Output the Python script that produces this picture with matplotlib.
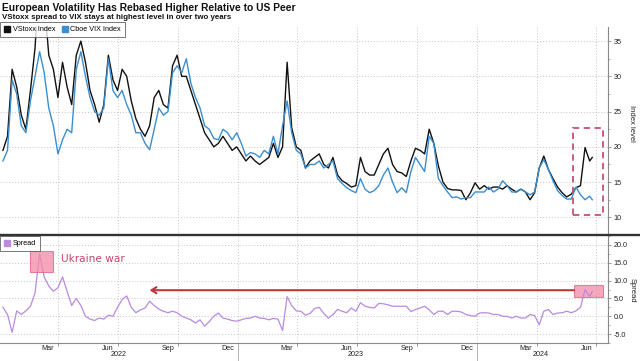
import matplotlib
matplotlib.use("Agg")
import matplotlib.pyplot as plt
import matplotlib.dates as mdates
from matplotlib.patches import Rectangle, Patch
from matplotlib.lines import Line2D
from matplotlib.ticker import MultipleLocator, FormatStrFormatter
import pandas as pd

# ---------------- data (weekly readings) ----------------
week_start = "2022-01-07"
n_weeks = 129
last_date = "2024-06-25"

vstoxx = [19.5, 21.5, 31, 28.5, 24.5, 22.5, 28, 34, 45, 41,
          33, 31, 27, 32, 28.5, 26, 33, 35, 32, 28,
          26, 23.5, 26, 33, 29.5, 28, 31, 30, 26.5, 24,
          22.5, 21.5, 23, 27, 28, 26, 25.5, 31.5, 33, 30,
          30, 28, 26, 24, 22, 21, 20, 20.5, 21.5, 20.5,
          19.5, 20, 19, 18, 18.7, 18, 17.5, 18, 18.5, 20.5,
          18.5, 20, 32, 22.7, 20, 19.5, 17, 18, 18.5, 19,
          17.5, 17, 18.5, 16, 15.2, 14.8, 14.3, 14.5, 18.5, 16.5,
          16, 16, 17.5, 19, 19.8, 17.5, 16.5, 16.3, 15.8, 18,
          19.8, 19.5, 19, 22.5, 20.5, 17.3, 15, 14.1, 13.9, 13.9,
          13.8, 12.5, 13.5, 14.9, 14, 14.5, 14, 14.3, 14.3, 14,
          14.5, 14, 13.6, 14, 13.6, 12.5, 13.5, 17, 18.7, 16.8,
          15.5, 14.3, 13.5, 12.9, 13.3, 14.2, 14.5, 19.9, 18, 18.5]

vix = [18, 19.5, 29.5, 27.5, 23, 22, 26.5, 30, 33.5, 30.5,
       25.5, 23, 19, 21, 22.5, 22, 31, 33.5, 30, 27,
       25, 24.5, 25.5, 32.5, 28, 27, 28, 26, 24.5, 22,
       22, 20.5, 19.6, 22.5, 25.5, 24.5, 25, 30.5, 31.5, 30.5,
       32.5, 29, 27, 25.5, 23, 22.5, 21.2, 21, 22.5, 22,
       21, 22, 20.5, 18.7, 19.2, 19, 18.5, 19.5, 19, 21.5,
       19, 23, 26.5, 22, 19.5, 19, 17, 17.5, 17.5, 18,
       17, 17.5, 18, 15.5, 14.8, 14.2, 13.8, 13.5, 15.5, 14,
       13.5, 13.8, 14.5, 16, 17, 15, 13.5, 14.2, 13.5, 16.5,
       18.5, 17.5, 16.5, 21.5, 20.5, 15.5, 14.5, 13.6, 12.8, 12.9,
       12.6, 12.8, 12.8, 13.6, 13.6, 13.6, 14.3, 13.6, 14, 15.2,
       14.5, 13.6, 13.6, 14, 13.6, 13.2, 13.6, 17, 18.2, 16.8,
       15.2, 13.8, 13.1, 12.6, 12.6, 14.3, 13.2, 12.5, 13, 12.5]

spread = [2.5, 0.5, -4.5, 1.5, 0.5, 1.5, 2.8, 6.5, 17.5, 11,
          8.5, 7, 8, 11, 7, 3, 5, 3, 0, -0.8,
          -1.2, -0.5, -0.8, 0.3, 0, 2.5, 4.7, 5.7, 2.5, 1,
          1.8, 2.3, 4.2, 3, 2, 1.4, 1, 1.4, 1, 0,
          -0.5, -1, -1.9, -1, -2.8, -1.5, 0, 0.9, -0.5, -0.8,
          -1.2, -1.4, -1, -0.6, -0.5, 0, -0.5, -0.6, -1, -0.6,
          -0.8, -4, 5.5, 3, 1.5, 1.4, 0.3, 0.8, 2.2, 2.5,
          0.8, -0.5, 0.5, 1.9, 1.4, 1, 2.3, 1.4, 3.8, 2.8,
          2.5, 2.3, 3.6, 3.5, 3.2, 2.8, 2.8, 2.8, 2.8, 1.3,
          1.9, 2.3, 2.8, 1.8, 0.5, 1.4, 1.4, 0.5, 1.4, 1.4,
          1.2, 0.5, 0.2, 0, 0.9, 1, 0.9, 0.5, 0.5, 0,
          0, -0.5, 0, -0.5, -0.5, 0.5, 0.2, -2.4, 1.4, 1.9,
          0.5, 0.9, 1, 1.4, 1, 1.5, 2.5, 7.5, 5.5, 7]

dates = list(pd.date_range(week_start, periods=n_weeks, freq="7D")) + [pd.Timestamp(last_date)]

title = "European Volatility Has Rebased Higher Relative to US Peer"
subtitle = "VStoxx spread to VIX stays at highest level in over two years"
year_labels = {"2022": "2022-07-03", "2023": "2023-06-30", "2024": "2024-04-08"}

# ---------------- style ----------------
C_BLACK = "#111111"
C_BLUE = "#3b8ed0"
C_PURPLE = "#b98ae0"
C_PINK = "#f48aa8"
C_PINK_EDGE = "#e0607e"
C_RED = "#c0363c"
C_GRID = "#c4c4c4"
C_SPINE = "#8a8a8a"
FONT = "Liberation Sans"
plt.rcParams["font.family"] = [FONT, "DejaVu Sans"]

W, H = 640, 361
fig = plt.figure(figsize=(W / 100, H / 100), dpi=100)
fig.patch.set_facecolor("white")

def fx(px):
    return px / W

def fy(py):
    return 1 - py / H

right_px = 607.7
top_ax = fig.add_axes([0, fy(235), fx(right_px), fy(27) - fy(235)])
bot_ax = fig.add_axes([0, fy(343), fx(right_px), fy(236) - fy(343)])

xmin = pd.Timestamp("2022-01-02 12:00")
xmax = pd.Timestamp("2024-07-18 14:00")

for ax in (top_ax, bot_ax):
    ax.set_xlim(xmin, xmax)
    for s in ("left", "top"):
        ax.spines[s].set_visible(False)
    ax.spines["right"].set_color(C_SPINE)
    ax.spines["right"].set_linewidth(0.8)
    ax.yaxis.tick_right()
    ax.yaxis.set_label_position("right")
    ax.tick_params(axis="y", which="major", length=2.2, width=0.6, color=C_SPINE,
                   labelsize=5.2, pad=2, labelcolor="#222222")
    ax.tick_params(axis="y", which="minor", length=1.2, width=0.5, color=C_SPINE)
    ax.xaxis.set_major_locator(mdates.MonthLocator(bymonth=[1, 4, 7, 10]))
    ax.grid(True, which="major", color=C_GRID, linestyle=(0, (1, 2)), linewidth=0.7)
    ax.set_axisbelow(True)

# ---------------- top panel ----------------
top_ax.spines["bottom"].set_visible(False)
top_ax.set_ylim(7.5, 37)
top_ax.yaxis.set_major_locator(MultipleLocator(5))
top_ax.yaxis.set_minor_locator(MultipleLocator(2.5))
top_ax.set_yticks([10, 15, 20, 25, 30, 35])
top_ax.tick_params(axis="x", which="both", length=0, labelbottom=False)
top_ax.plot(dates, vstoxx, color=C_BLACK, lw=1.0, zorder=3)
top_ax.plot(dates, vix, color=C_BLUE, lw=1.0, zorder=4)
top_ax.add_patch(Rectangle((mdates.date2num(pd.Timestamp("2024-05-26")), 10.4),
                           mdates.date2num(pd.Timestamp("2024-07-11")) - mdates.date2num(pd.Timestamp("2024-05-26")),
                           22.7 - 10.4, fill=False, edgecolor="#c4507a", lw=1.3,
                           linestyle=(0, (3.5, 2.5)), zorder=5))
top_ax.text(632 / right_px, (235 - 123) / 208, "Index level", transform=top_ax.transAxes,
            rotation=270, ha="center", va="center", fontsize=5.5, color="#222222",
            clip_on=False)

leg1 = top_ax.legend(handles=[Patch(facecolor=C_BLACK, edgecolor=C_BLACK, label="VStoxx Index"),
                              Patch(facecolor=C_BLUE, edgecolor=C_BLUE, label="Cboe VIX Index")],
                     loc="upper left", bbox_to_anchor=(0, fy(22)), bbox_transform=fig.transFigure,
                     borderaxespad=0, ncol=2, fontsize=5.2, frameon=True, fancybox=False,
                     handlelength=0.9, handleheight=0.9, handletextpad=0.3, columnspacing=0.9,
                     borderpad=0.55)
leg1.get_frame().set_edgecolor("#555555")
leg1.get_frame().set_linewidth(0.7)
leg1.set_zorder(10)

# ---------------- bottom panel ----------------
bot_ax.spines["bottom"].set_color(C_SPINE)
bot_ax.spines["bottom"].set_linewidth(0.8)
bot_ax.set_ylim(-7.5, 22.5)
bot_ax.set_yticks([-5, 0, 5, 10, 15, 20])
bot_ax.yaxis.set_minor_locator(MultipleLocator(2.5))
bot_ax.yaxis.set_major_formatter(FormatStrFormatter("%.1f"))
bot_ax.xaxis.set_major_formatter(plt.NullFormatter())
bot_ax.xaxis.set_minor_locator(mdates.MonthLocator(bymonth=[3, 6, 9, 12], bymonthday=16))
bot_ax.xaxis.set_minor_formatter(mdates.DateFormatter("%b"))
bot_ax.tick_params(axis="x", which="major", length=2.5, width=0.6, color=C_SPINE)
bot_ax.tick_params(axis="x", which="minor", length=0, labelsize=5.2, pad=1.5, labelcolor="#222222")
bot_ax.plot(dates, spread, color=C_PURPLE, lw=0.9, zorder=3)

d2n = lambda s: mdates.date2num(pd.Timestamp(s))
# Ukraine war box
bot_ax.add_patch(Rectangle((d2n("2022-02-18"), 12.4), d2n("2022-03-24") - d2n("2022-02-18"), 18.3 - 12.4,
                           facecolor=C_PINK, edgecolor=C_PINK_EDGE, alpha=0.75, lw=0.8, zorder=4))
bot_ax.text(d2n("2022-04-05"), 16.0, "Ukraine war", fontsize=7.6, color="#c4466c",
            ha="left", va="center", zorder=6, family=["DejaVu Sans"])
# current box
bot_ax.add_patch(Rectangle((d2n("2024-05-28"), 5.4), d2n("2024-07-12") - d2n("2024-05-28"), 8.7 - 5.4,
                           facecolor=C_PINK, edgecolor=C_PINK_EDGE, alpha=0.75, lw=0.8, zorder=2))
# arrow
bot_ax.annotate("", xy=(d2n("2022-08-19"), 7.3), xytext=(d2n("2024-05-28"), 7.3),
                arrowprops=dict(arrowstyle="->,head_length=0.35,head_width=0.22", color=C_RED, lw=1.5,
                                shrinkA=0, shrinkB=0), zorder=5)

bot_ax.text(632 / right_px, (343 - 290) / 107, "Spread", transform=bot_ax.transAxes,
            rotation=270, ha="center", va="center", fontsize=5.5, color="#222222", clip_on=False)

leg2 = bot_ax.legend(handles=[Patch(facecolor=C_PURPLE, edgecolor=C_PURPLE, label="Spread")],
                     loc="upper left", bbox_to_anchor=(0, fy(236)), bbox_transform=fig.transFigure,
                     borderaxespad=0, fontsize=5.2, frameon=True, fancybox=False,
                     handlelength=0.9, handleheight=0.9, handletextpad=0.3, borderpad=0.55)
leg2.get_frame().set_edgecolor("#555555")
leg2.get_frame().set_linewidth(0.7)
leg2.set_zorder(10)

# year labels and separators
bt = bot_ax.get_xaxis_transform()
for lbl, d in year_labels.items():
    bot_ax.text(d2n(d), -0.112, lbl, transform=bt, ha="center", va="center", fontsize=5.2,
                color="#222222", clip_on=False)
for d in ("2023-01-01", "2024-01-01"):
    bot_ax.plot([d2n(d), d2n(d)], [0, -0.2], transform=bt, color="#b5b5b5", lw=0.7, clip_on=False)

# thick separator between panels
fig.add_artist(Line2D([0, 1], [fy(235.3), fy(235.3)], color="#333333", lw=1.7))

# titles
t1 = fig.text(fx(2), fy(11), title, fontsize=7, fontweight="bold", ha="left", va="baseline",
              color="#111111")
t2 = fig.text(fx(2), fy(19), subtitle, fontsize=5, fontweight="bold", ha="left", va="baseline",
              color="#111111")
fig.canvas.draw()
r = fig.canvas.get_renderer()
for t, target in ((t1, 293), (t2, 230)):
    w = t.get_window_extent(r).width
    t.set_fontsize(t.get_fontsize() * target / w)

fig.savefig("out.png", dpi=100)
